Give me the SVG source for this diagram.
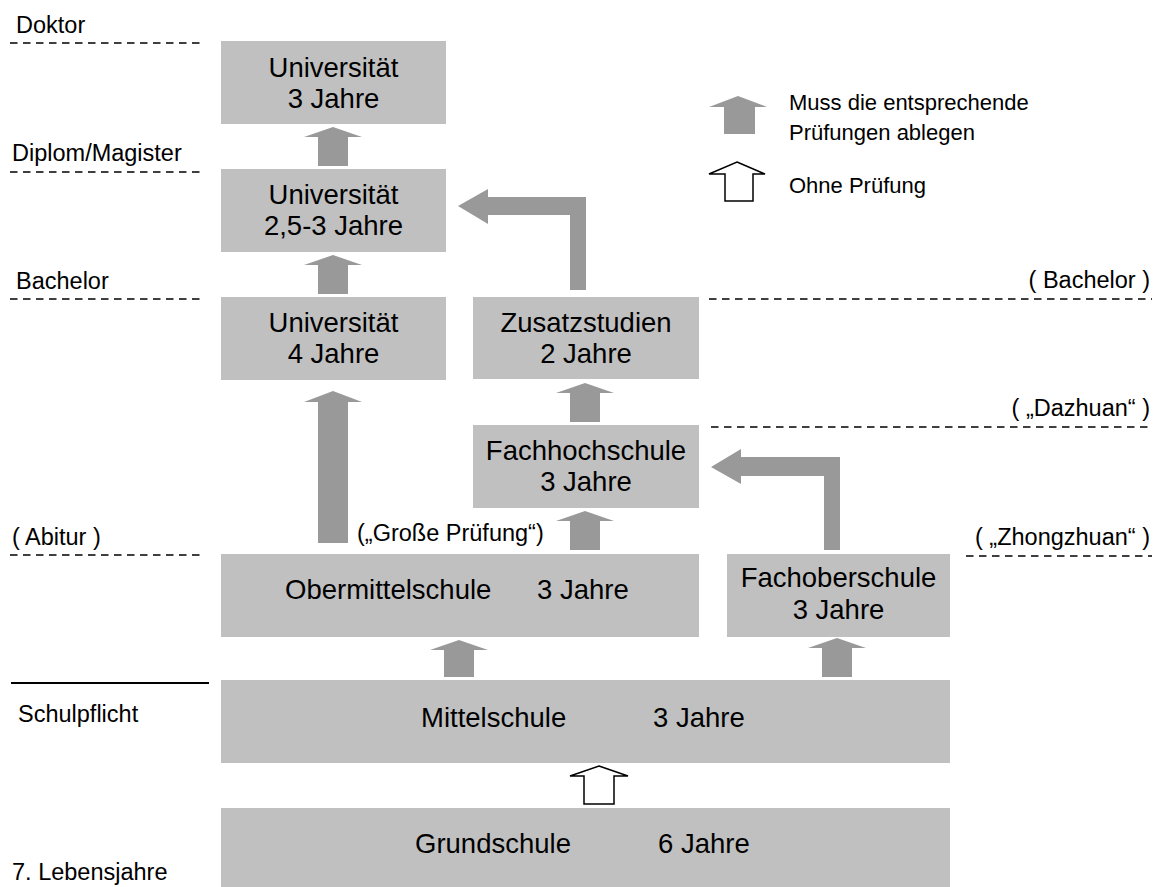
<svg xmlns="http://www.w3.org/2000/svg" width="1161" height="887" viewBox="0 0 1161 887">
<style>
text{font-family:"Liberation Sans",Arial,sans-serif;fill:#000}
.box{fill:#c0c0c0}
.bt{font-size:27.5px;text-anchor:middle}
.bl{font-size:27.5px}
.side{font-size:23.5px}
.sideR{font-size:23.5px;text-anchor:end}
.leg{font-size:22px}
.dash{stroke:#000;stroke-width:1.7;stroke-dasharray:7.5 5.5;fill:none}
.arr{fill:#999999}
.open{fill:#fff;stroke:#000;stroke-width:1.5}
</style>
<g id="levels">
<text class="side" x="16" y="33">Doktor</text>
<line class="dash" x1="10" y1="43" x2="200" y2="43"/>
<text class="side" x="12" y="161">Diplom/Magister</text>
<line class="dash" x1="10" y1="172" x2="200" y2="172"/>
<text class="side" x="16" y="289">Bachelor</text>
<line class="dash" x1="10" y1="299" x2="200" y2="299"/>
<text class="side" x="12" y="545">( Abitur )</text>
<line class="dash" x1="10" y1="555" x2="200" y2="555"/>
<line x1="11" y1="683" x2="209" y2="683" stroke="#000" stroke-width="1.8"/>
<text class="side" x="18" y="722">Schulpflicht</text>
<text class="side" x="12" y="880">7. Lebensjahre</text>
<text class="sideR" x="1150" y="288">( Bachelor )</text>
<line class="dash" x1="709" y1="299" x2="1152" y2="299"/>
<text class="sideR" x="1150" y="416">( „Dazhuan“ )</text>
<line class="dash" x1="711" y1="427" x2="1152" y2="427"/>
<text class="sideR" x="1150" y="545">( „Zhongzhuan“ )</text>
<line class="dash" x1="966" y1="556" x2="1152" y2="556"/>
</g>
<g id="legend">
<polygon class="arr" points="738,96 767,107 755,107 755,134 724,134 724,107 709,107"/>
<text class="leg" x="789" y="110">Muss die entsprechende</text>
<text class="leg" x="789" y="140">Prüfungen ablegen</text>
<polygon class="open" points="737,162 765,174 753,174 753,201 725,201 725,174 709,174"/>
<text class="leg" x="789" y="193">Ohne Prüfung</text>
</g>
<g id="uni3">
<rect class="box" x="221" y="41" width="225" height="83"/>
<text class="bt" x="333.5" y="77">Universität</text>
<text class="bt" x="333.5" y="108">3 Jahre</text>
</g>
<g id="uni25">
<rect class="box" x="221" y="169" width="225" height="83"/>
<text class="bt" x="333.5" y="204">Universität</text>
<text class="bt" x="333.5" y="235">2,5-3 Jahre</text>
</g>
<g id="uni4">
<rect class="box" x="221" y="297" width="225" height="83"/>
<text class="bt" x="333.5" y="332">Universität</text>
<text class="bt" x="333.5" y="363">4 Jahre</text>
</g>
<g id="zusatz">
<rect class="box" x="473" y="297" width="226" height="82"/>
<text class="bt" x="586" y="332">Zusatzstudien</text>
<text class="bt" x="586" y="363">2 Jahre</text>
</g>
<g id="fachhoch">
<rect class="box" x="473" y="425" width="226" height="83"/>
<text class="bt" x="586" y="460">Fachhochschule</text>
<text class="bt" x="586" y="491">3 Jahre</text>
</g>
<g id="obermittel">
<rect class="box" x="221" y="554" width="478" height="83"/>
<text class="bl" x="285" y="599">Obermittelschule</text>
<text class="bl" x="537" y="599">3 Jahre</text>
</g>
<g id="fachober">
<rect class="box" x="727" y="554" width="223" height="83"/>
<text class="bt" x="838.5" y="587">Fachoberschule</text>
<text class="bt" x="838.5" y="619">3 Jahre</text>
</g>
<g id="mittel">
<rect class="box" x="221" y="680" width="729" height="83"/>
<text class="bl" x="421" y="727">Mittelschule</text>
<text class="bl" x="653" y="727">3 Jahre</text>
</g>
<g id="grund">
<rect class="box" x="221" y="808" width="729" height="79"/>
<text class="bl" x="415" y="853">Grundschule</text>
<text class="bl" x="658" y="853">6 Jahre</text>
</g>
<g id="connectors">
<polygon class="arr" points="333,127 362,137 348,137 348,166 318,166 318,137 304,137"/>
<polygon class="arr" points="333,255 362,265 348,265 348,294 318,294 318,265 304,265"/>
<polygon class="arr" points="333,391 362,402 348,402 348,543 318,543 318,402 304,402"/>
<polygon class="arr" points="585,383 614,393 600,393 600,422 570,422 570,393 556,393"/>
<polygon class="arr" points="585,511 614,521 600,521 600,550 570,550 570,521 556,521"/>
<polygon class="arr" points="459,640 488,650 474,650 474,677 444,677 444,650 430,650"/>
<polygon class="arr" points="837,638 866,648 852,648 852,677 822,677 822,648 808,648"/>
<polygon class="arr" points="458,206 488,189 488,197 586,197 586,290 570,290 570,215 488,215 488,224"/>
<polygon class="arr" points="711,467 741,449 741,457 840,457 840,550 824,550 824,476 741,476 741,484"/>
<polygon class="open" points="599,766 628,776 614,776 614,804 584,804 584,776 570,776"/>
<text class="side" x="357" y="541">(„Große Prüfung“)</text>
</g>
</svg>
